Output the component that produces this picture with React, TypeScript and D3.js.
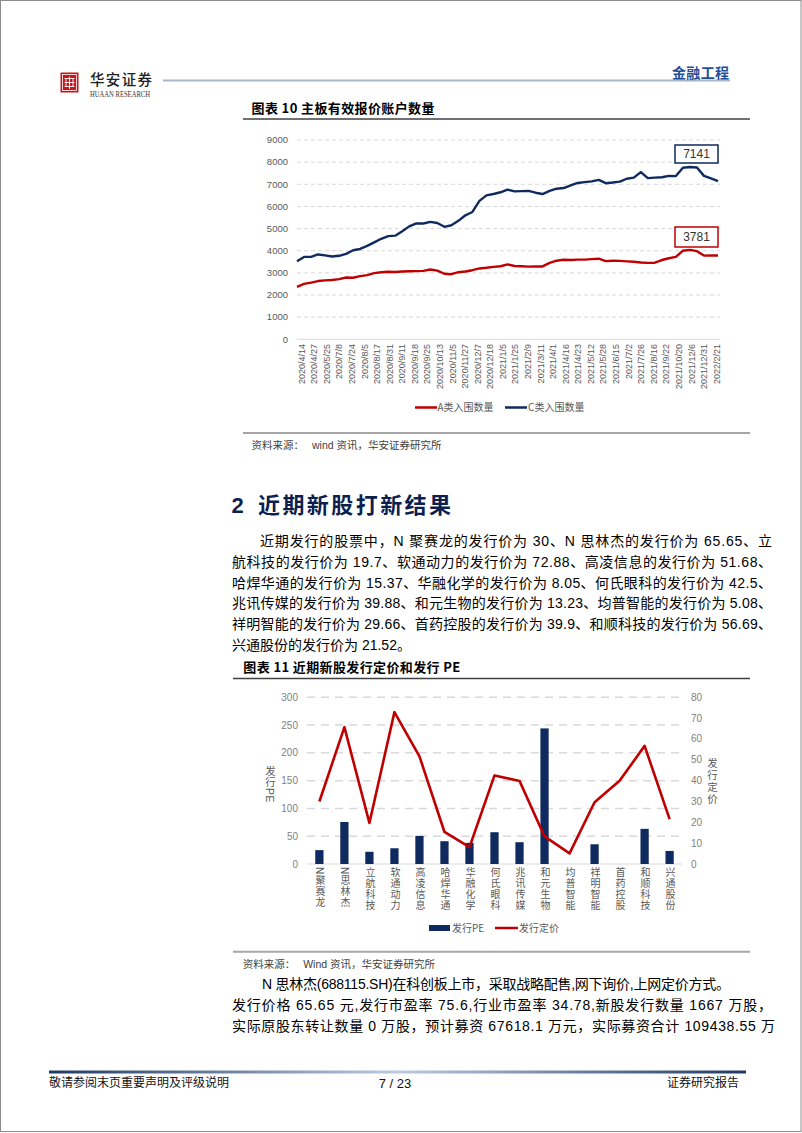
import React from 'react';
import * as d3 from 'd3';

// ---------- Chart 10 data ----------
const dateLabels = [
  '2020/4/14', '2020/4/27', '2020/5/25', '2020/7/8', '2020/7/24', '2020/8/5', '2020/8/17', '2020/8/31',
  '2020/9/11', '2020/9/18', '2020/9/25', '2020/10/13', '2020/11/5', '2020/11/27', '2020/12/7', '2020/12/18',
  '2021/1/5', '2021/1/25', '2021/2/9', '2021/3/11', '2021/4/1', '2021/4/16', '2021/4/23', '2021/5/12',
  '2021/5/28', '2021/6/15', '2021/7/2', '2021/7/26', '2021/8/16', '2021/9/22', '2021/10/20', '2021/12/6',
  '2021/12/31', '2022/2/21',
];
const seriesC = [
  3520, 3720, 3720, 3830, 3790, 3740, 3770, 3860, 4020, 4080, 4220, 4380, 4540, 4660, 4680, 4880,
  5100, 5230, 5230, 5300, 5250, 5080, 5150, 5350, 5600, 5750, 6250, 6500, 6560, 6640, 6760, 6680,
  6690, 6700, 6620, 6560, 6700, 6800, 6830, 6950, 7060, 7100, 7130, 7200, 7050, 7080, 7120, 7250,
  7300, 7550, 7280, 7300, 7320, 7380, 7370, 7750, 7780, 7760, 7380, 7270, 7141,
];
const seriesA = [
  2370, 2500, 2560, 2630, 2660, 2680, 2720, 2790, 2780, 2850, 2900, 2990, 3030, 3050, 3040, 3060,
  3070, 3080, 3090, 3150, 3100, 2960, 2940, 3030, 3060, 3120, 3200, 3230, 3270, 3300, 3380, 3310,
  3300, 3280, 3290, 3290, 3450, 3550, 3590, 3580, 3600, 3600, 3620, 3640, 3530, 3550, 3540, 3520,
  3500, 3470, 3450, 3460, 3580, 3660, 3720, 4000, 4040, 3980, 3780, 3790, 3781,
];
const yTicks1 = [0, 1000, 2000, 3000, 4000, 5000, 6000, 7000, 8000, 9000];
const legend1 = ['A类入围数量', 'C类入围数量'];

// ---------- Chart 11 data ----------
const stocks = ['N聚赛龙', 'N思林杰', '立航科技', '软通动力', '高凌信息', '哈焊华通', '华融化学', '何氏眼科',
  '兆讯传媒', '和元生物', '均普智能', '祥明智能', '首药控股', '和顺科技', '兴通股份'];
const issuePE: (number | null)[] = [25, 75.6, 22, 28.3, 50.6, 41, 38, 57.2, 39.2, 244, null, 35.5, null, 63.3, 23.5];
const issuePrice = [30, 65.65, 19.7, 72.88, 51.68, 15.37, 8.05, 42.5, 39.88, 13.23, 5.08, 29.66, 39.9, 56.69, 21.52];
const peTicks = [0, 50, 100, 150, 200, 250, 300];
const priceTicks = [0, 10, 20, 30, 40, 50, 60, 70, 80];
const axisTitles = ['发行PE', '发行定价'];
const legend2 = ['发行PE', '发行定价'];

// ---------- Text ----------
const para1 = [
  '近期发行的股票中，N 聚赛龙的发行价为 30、N 思林杰的发行价为 65.65、立',
  '航科技的发行价为 19.7、软通动力的发行价为 72.88、高凌信息的发行价为 51.68、',
  '哈焊华通的发行价为 15.37、华融化学的发行价为 8.05、何氏眼科的发行价为 42.5、',
  '兆讯传媒的发行价为 39.88、和元生物的发行价为 13.23、均普智能的发行价为 5.08、',
  '祥明智能的发行价为 29.66、首药控股的发行价为 39.9、和顺科技的发行价为 56.69、',
  '兴通股份的发行价为 21.52。',
];
const para2 = [
  'N 思林杰(688115.SH)在科创板上市，采取战略配售,网下询价,上网定价方式。',
  '发行价格 65.65 元,发行市盈率 75.6,行业市盈率 34.78,新股发行数量 1667 万股，',
  '实际原股东转让数量 0 万股，预计募资 67618.1 万元，实际募资合计 109438.55 万',
];

const MIX = '"Liberation Sans", "Noto Sans CJK SC", sans-serif';
const CJK = '"Noto Sans CJK SC", sans-serif';
const GRAY = '#595959';
const NAVY = '#0F2A5E';
const RED = '#C00000';
const VERT: React.CSSProperties = { writingMode: 'vertical-rl' as any, textOrientation: 'mixed' as any };

function Chart10() {
  const x = d3.scaleLinear().domain([0, seriesC.length - 1]).range([297, 718]);
  const y = d3.scaleLinear().domain([0, 9000]).range([339.3, 140]);
  const xl = d3.scalePoint<string>().domain(dateLabels).range([301.5, 716.5]);
  const line = d3.line<number>().x((_, i) => x(i)).y((d) => y(d));
  const lastC = seriesC[seriesC.length - 1];
  const lastA = seriesA[seriesA.length - 1];
  return (
    <g>
      <text x={251.5} y={112.5} fontFamily={CJK} fontSize={13} fontWeight={700} textLength={183} lengthAdjust="spacing">图表 10  主板有效报价账户数量</text>
      <line x1={243} x2={750} y1={119} y2={119} stroke="#404040" strokeWidth={1.5} />
      {yTicks1.map((t) => (
        <g key={t}>
          <line x1={297} x2={720} y1={y(t)} y2={y(t)} stroke="#D9D9D9" strokeWidth={1}
            strokeDasharray={t === 0 ? undefined : '4 3'} />
          <text x={288} y={y(t)} dy="0.35em" textAnchor="end" fontFamily={MIX} fontSize={9.5} fill={GRAY}>{t}</text>
        </g>
      ))}
      {dateLabels.map((d) => (
        <text key={d} transform={`translate(${xl(d)},344) rotate(-90)`} textAnchor="end" dy="0.35em"
          fontFamily={MIX} fontSize={9} fill={GRAY}>{d}</text>
      ))}
      <path d={line(seriesA) || ''} fill="none" stroke={RED} strokeWidth={2.4} strokeLinejoin="round" />
      <path d={line(seriesC) || ''} fill="none" stroke={NAVY} strokeWidth={2.4} strokeLinejoin="round" />
      <rect x={675} y={145} width={43} height={18} fill="#fff" stroke={NAVY} strokeWidth={1.5} />
      <text x={696.5} y={154} dy="0.36em" textAnchor="middle" fontFamily={MIX} fontSize={12} fill="#333">{lastC}</text>
      <rect x={675} y={227} width={43} height={20} fill="#fff" stroke={RED} strokeWidth={1.5} />
      <text x={696.5} y={237} dy="0.36em" textAnchor="middle" fontFamily={MIX} fontSize={12} fill="#333">{lastA}</text>
      <line x1={415} x2={437} y1={407.5} y2={407.5} stroke={RED} strokeWidth={2.5} />
      <text x={437.5} y={407.5} dy="0.35em" fontFamily={CJK} fontSize={10} fill={GRAY}>{legend1[0]}</text>
      <line x1={505} x2={527} y1={407.5} y2={407.5} stroke={NAVY} strokeWidth={2.5} />
      <text x={528} y={407.5} dy="0.35em" fontFamily={CJK} fontSize={10} fill={GRAY}>{legend1[1]}</text>
      <line x1={243} x2={750} y1={433} y2={433} stroke="#A6A6A6" strokeWidth={2} />
      <text x={251.5} y={445} dy="0.35em" fontFamily={MIX} fontSize={10.5} fill="#404040">资料来源：<tspan dx={8}>wind 资讯，华安证券研究所</tspan></text>
    </g>
  );
}

function Chart11() {
  const xb = d3.scaleBand<string>().domain(stocks).range([307, 682]).paddingInner(0.67).paddingOuter(0.33);
  const yL = d3.scaleLinear().domain([0, 300]).range([864, 697.3]);
  const yR = d3.scaleLinear().domain([0, 80]).range([864, 697.3]);
  const cx = (s: string) => (xb(s) as number) + xb.bandwidth() / 2;
  const line = d3.line<number>().x((_, i) => cx(stocks[i])).y((d) => yR(d));
  return (
    <g>
      <text x={243.3} y={672} fontFamily={CJK} fontSize={13} fontWeight={700} textLength={217} lengthAdjust="spacing">图表 11  近期新股发行定价和发行 PE</text>
      <line x1={233} x2={750} y1={678.5} y2={678.5} stroke="#404040" strokeWidth={1.5} />
      {peTicks.map((t) => (
        <g key={t}>
          <line x1={307} x2={682} y1={yL(t)} y2={yL(t)} stroke="#D9D9D9" strokeWidth={t === 0 ? 1 : 1.5}
            strokeDasharray={t === 0 ? undefined : '8 6'} />
          <text x={298} y={yL(t)} dy="0.35em" textAnchor="end" fontFamily={MIX} fontSize={10} fill="#7F7F7F">{t}</text>
        </g>
      ))}
      {priceTicks.map((t) => (
        <text key={t} x={691} y={yR(t)} dy="0.35em" fontFamily={MIX} fontSize={10} fill="#7F7F7F">{t}</text>
      ))}
      {stocks.map((s, i) => issuePE[i] == null ? null : (
        <rect key={s} x={xb(s)} y={yL(issuePE[i] as number)} width={xb.bandwidth()}
          height={864 - yL(issuePE[i] as number)} fill={NAVY} />
      ))}
      <path d={line(issuePrice) || ''} fill="none" stroke={RED} strokeWidth={2.6} strokeLinejoin="round" />
      {stocks.map((s) => (
        <text key={s} x={cx(s)} y={867} style={VERT} fontFamily={MIX} fontSize={10} letterSpacing={1}
          fill={GRAY}>{s}</text>
      ))}
      {/* axis titles */}
      <text x={270} y={766} style={VERT} fontFamily={MIX} fontSize={10.5} letterSpacing={0.5} fill={GRAY}>{axisTitles[0]}</text>
      <text x={712} y={758} style={VERT} fontFamily={MIX} fontSize={10.5} letterSpacing={1.3} fill={GRAY}>{axisTitles[1]}</text>
      {/* legend */}
      <rect x={429} y={925} width={21} height={6} fill={NAVY} />
      <text x={452} y={928} dy="0.35em" fontFamily={CJK} fontSize={10} fill={GRAY}>{legend2[0]}</text>
      <line x1={495} x2={518} y1={928} y2={928} stroke={RED} strokeWidth={2.5} />
      <text x={519} y={928} dy="0.35em" fontFamily={CJK} fontSize={10} fill={GRAY}>{legend2[1]}</text>
      <line x1={233} x2={750} y1={951.7} y2={951.7} stroke="#A6A6A6" strokeWidth={2} />
      <text x={242.7} y={964} dy="0.35em" fontFamily={MIX} fontSize={10.5} fill="#404040">资料来源：<tspan dx={8}>Wind 资讯，华安证券研究所</tspan></text>
    </g>
  );
}

export default function App() {
  return (
    <svg width={802} height={1133} viewBox="0 0 802 1133"
      style={{ position: 'absolute', left: 0, top: 0, background: '#fff' }}>
      <defs>
        <linearGradient id="footGrad" x1="0" x2="1" y1="0" y2="0">
          <stop offset="0" stopColor="#1F3864" />
          <stop offset="0.5" stopColor="#BCCBE0" />
          <stop offset="1" stopColor="#1F3864" />
        </linearGradient>
      </defs>
      <rect x={0} y={0} width={802} height={1133} fill="#fff" />
      <rect x={0.5} y={0.5} width={800.5} height={1131} fill="none" stroke="#8C8C8C" strokeWidth={1} />
      {/* header */}
      <rect x={60.5} y={72.5} width={18} height={20} fill="#C8161D" />
      <rect x={62.5} y={74.5} width={14} height={16} fill="none" stroke="#fff" strokeWidth={0.8} />
      <path d="M64.5 78.5 H74.5 M64.5 82.5 H74.5 M64.5 86.5 H74.5 M69.5 76.5 V89 M66 78.5 V86.5 M73 78.5 V86.5" stroke="#fff" strokeWidth={0.9} fill="none" />
      <text x={90} y={80} dy="0.36em" fontFamily={CJK} fontSize={14.5} fontWeight={500} fill="#222" textLength={62} lengthAdjust="spacing">华安证券</text>
      <text x={90} y={94.5} dy="0.35em" fontFamily='"Liberation Serif", serif' fontSize={7.5} fill="#333" textLength={60} lengthAdjust="spacingAndGlyphs">HUAAN RESEARCH</text>
      <line x1={163} x2={730} y1={80.5} y2={80.5} stroke="#A9B5C9" strokeWidth={2} />
      <text x={672} y={72.5} dy="0.36em" fontFamily={CJK} fontSize={14} fontWeight={700} fill="#1F4E9A" textLength={57} lengthAdjust="spacing">金融工程</text>

      <Chart10 />

      {/* section heading */}
      <text x={231.5} y={505} dy="0.36em" fontFamily={MIX} fontSize={22} fontWeight={700} fill="#0D1F4F">2</text>
      <text x={258} y={505} dy="0.36em" fontFamily={CJK} fontSize={22} fontWeight={700} fill="#0D1F4F" textLength={193} lengthAdjust="spacing">近期新股打新结果</text>

      {para1.map((t, i) => (
        <text key={i} x={i === 0 ? 260 : 232} y={541 + i * 20.8} dy="0.36em" fontFamily={MIX} fontSize={14} fill="#000"
          textLength={i === 0 ? 512 : i < 5 ? 540 : undefined} lengthAdjust="spacing">{t}</text>
      ))}

      <Chart11 />

      {para2.map((t, i) => (
        <text key={i} x={i === 0 ? 262 : 232} y={984 + i * 21} dy="0.36em" fontFamily={MIX} fontSize={14} fill="#000"
          textLength={i === 0 ? 468 : i === 1 ? 540 : 543} lengthAdjust="spacing">{t}</text>
      ))}

      {/* footer */}
      <rect x={49} y={1070.5} width={697} height={3} fill="url(#footGrad)" />
      <text x={49} y={1083} dy="0.36em" fontFamily={CJK} fontSize={12} fill="#111" textLength={180} lengthAdjust="spacing">敬请参阅末页重要声明及评级说明</text>
      <text x={395} y={1083} dy="0.36em" textAnchor="middle" fontFamily={MIX} fontSize={13} fill="#111">7 / 23</text>
      <text x={667} y={1083} dy="0.36em" fontFamily={CJK} fontSize={12} fill="#111" textLength={72} lengthAdjust="spacing">证券研究报告</text>
    </svg>
  );
}
